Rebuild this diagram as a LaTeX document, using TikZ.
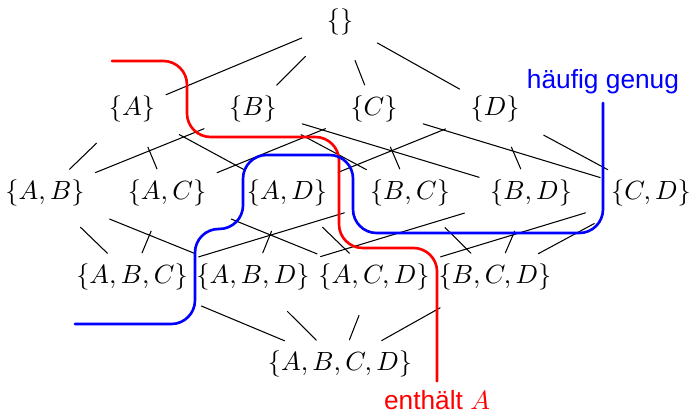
\documentclass[tikz,border=0pt]{standalone}
\usepackage{fontspec}
\newfontfamily\labelfont{Liberation Sans}
\begin{document}
\begin{tikzpicture}[line cap=round, line join=round]
	\tikzset{edge/.style={shorten <=6.5pt, shorten >=0.7pt},
		cut/.style={line width=1pt, rounded corners=9pt}}
	\useasboundingbox (0,0) rectangle (9.262,5.506);
	% Mengen, Zeile fuer Zeile
	\node (e) at (4.544,5.212) {$\{\}$};
	\node (a) at (1.764,4.050) {$\{A\}$};
	\node (b) at (3.381,4.050) {$\{B\}$};
	\node (c) at (4.999,4.050) {$\{C\}$};
	\node (d) at (6.616,4.050) {$\{D\}$};
	\node (ab) at (0.601,2.927) {$\{A,B\}$};
	\node (ac) at (2.232,2.927) {$\{A,C\}$};
	\node (ad) at (3.836,2.927) {$\{A,D\}$};
	\node (bc) at (5.480,2.927) {$\{B,C\}$};
	\node (bd) at (7.097,2.927) {$\{B,D\}$};
	\node (cd) at (8.701,2.927) {$\{C,D\}$};
	\node (abc) at (1.764,1.804) {$\{A,B,C\}$};
	\node (abd) at (3.381,1.804) {$\{A,B,D\}$};
	\node (acd) at (4.999,1.804) {$\{A,C,D\}$};
	\node (bcd) at (6.616,1.804) {$\{B,C,D\}$};
	\node (abcd) at (4.544,0.642) {$\{A,B,C,D\}$};
	% Kanten
	\draw[edge] (e)--(a); \draw[edge] (e)--(b); \draw[edge] (e)--(c); \draw[edge] (e)--(d);
	\draw[edge] (a)--(ab); \draw[edge] (a)--(ac); \draw[edge] (a)--(ad);
	\draw[edge] (b)--(ab); \draw[edge] (b)--(bc); \draw[edge] (b)--(bd);
	\draw[edge] (c)--(ac); \draw[edge] (c)--(bc); \draw[edge] (c)--(cd);
	\draw[edge] (d)--(ad); \draw[edge] (d)--(bd); \draw[edge] (d)--(cd);
	\draw[edge] (ab)--(abc); \draw[edge] (ab)--(abd);
	\draw[edge] (ac)--(abc); \draw[edge] (ac)--(acd);
	\draw[edge] (ad)--(abd); \draw[edge] (ad)--(acd);
	\draw[edge] (bc)--(abc); \draw[edge] (bc)--(bcd);
	\draw[edge] (bd)--(abd); \draw[edge] (bd)--(bcd);
	\draw[edge] (cd)--(acd); \draw[edge] (cd)--(bcd);
	\draw[edge] (abc)--(abcd); \draw[edge] (abd)--(abcd);
	\draw[edge] (acd)--(abcd); \draw[edge] (bcd)--(abcd);
	% Grenzen
	\node[red, font=\labelfont, inner sep=1pt, outer sep=2.3pt] (withA) at (5.841,0.165) {enthält $A$};
	\node[blue, font=\labelfont] (freq) at (8.059,4.417) {häufig genug};
	\draw[cut, red] (1.497,4.691) -- (2.499,4.691) -- (2.499,3.675) -- (4.531,3.675)
		-- (4.531,2.192) -- (5.841,2.192) -- (withA.north);
	\draw[cut, blue] (1.002,1.176) -- (2.606,1.176) -- (2.606,2.446) -- (3.248,2.446)
		-- (3.248,3.435) -- (4.718,3.435) -- (4.718,2.392) -- (8.059,2.392) -- (freq.south);
\end{tikzpicture}
\end{document}
